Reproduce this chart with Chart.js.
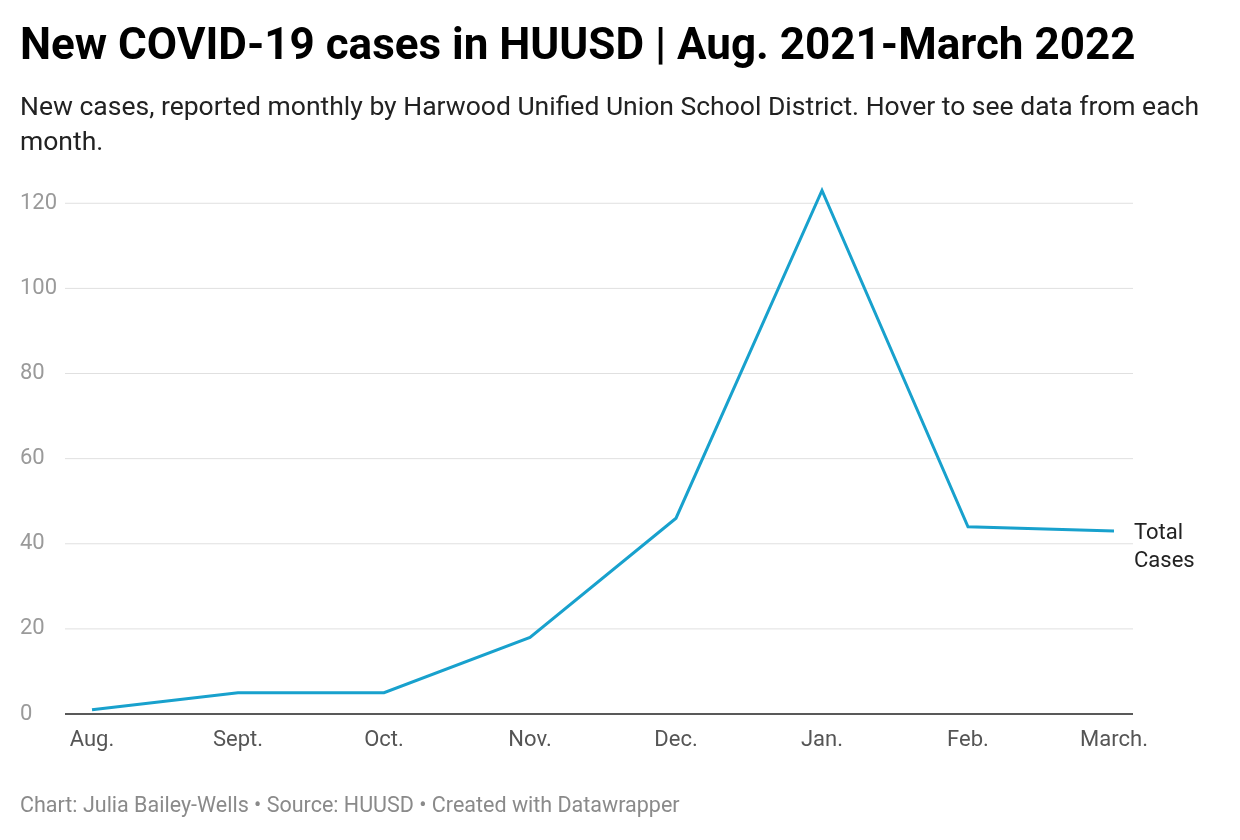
<!DOCTYPE html>
<html><head><meta charset="utf-8">
<script src="https://cdn.jsdelivr.net/npm/chart.js@4"></script>
<style>
body{margin:0;background:#fff;font-family:Roboto,sans-serif;}
#wrap{position:relative;width:1240px;height:840px;}
canvas{position:absolute;left:0;top:0;}
h1{position:absolute;left:20px;top:18px;margin:0;font-size:44px;font-weight:700;color:#000;}
.sub{position:absolute;left:20px;top:88px;width:1200px;font-size:26.5px;line-height:35px;color:#222;}
.foot{position:absolute;left:20px;top:792px;font-size:21.5px;color:#8a8a8a;}
</style></head>
<body><div id="wrap">
<canvas id="c" width="1240" height="840"></canvas>
<h1>New COVID-19 cases in HUUSD | Aug. 2021-March 2022</h1>
<div class="sub">New cases, reported monthly by Harwood Unified Union School District. Hover to see data from each month.</div>
<div class="foot">Chart: Julia Bailey-Wells • Source: HUUSD • Created with Datawrapper</div>
</div>
<script>
const months = ["Aug.", "Sept.", "Oct.", "Nov.", "Dec.", "Jan.", "Feb.", "March."];
const totalCases = [1, 5, 5, 18, 46, 123, 44, 43];
const yTicks = [0, 20, 40, 60, 80, 100, 120];

// datawrapper-style axes: labels left of gridlines
const axesPlugin = {
  id: 'dwAxes',
  beforeDatasetsDraw(chart) {
    const ctx = chart.ctx, y = chart.scales.y, x = chart.scales.x;
    ctx.save();
    ctx.font = '22px Roboto';
    for (const t of yTicks) {
      const py = y.getPixelForValue(t);
      ctx.strokeStyle = t === 0 ? '#222' : '#e0e0e0';
      ctx.lineWidth = t === 0 ? 1.5 : 1;
      ctx.beginPath(); ctx.moveTo(65, py); ctx.lineTo(1133, py); ctx.stroke();
      ctx.fillStyle = '#9a9a9a';
      ctx.textAlign = 'left'; ctx.textBaseline = 'middle';
      ctx.fillText(String(t), 20, py);
    }
    ctx.fillStyle = '#555';
    ctx.textAlign = 'center'; ctx.textBaseline = 'top';
    months.forEach((m, i) => ctx.fillText(m, x.getPixelForValue(i), y.getPixelForValue(0) + 15));
    ctx.restore();
  },
  afterDatasetsDraw(chart) {
    const ctx = chart.ctx, y = chart.scales.y, x = chart.scales.x;
    const last = totalCases.length - 1;
    const py = y.getPixelForValue(totalCases[last]);
    ctx.save();
    ctx.font = '22px Roboto'; ctx.fillStyle = '#222';
    ctx.textAlign = 'left'; ctx.textBaseline = 'middle';
    ctx.fillText('Total', x.getPixelForValue(last) + 20, py + 3);
    ctx.fillText('Cases', x.getPixelForValue(last) + 20, py + 31);
    ctx.restore();
  }
};

new Chart(document.getElementById('c'), {
  type: 'line',
  data: {
    labels: months,
    datasets: [{
      label: 'Total Cases',
      data: totalCases,
      borderColor: '#18a1cd',
      borderWidth: 3,
      pointRadius: 0,
      tension: 0,
      fill: false
    }]
  },
  options: {
    responsive: false,
    animation: false,
    layout: { padding: { left: 92, right: 126, top: 182, bottom: 126 } },
    plugins: { legend: { display: false }, tooltip: { enabled: false } },
    scales: {
      x: { display: false },
      y: { display: false, min: 0, max: 125 }
    }
  },
  plugins: [axesPlugin]
});
</script>
</body></html>
